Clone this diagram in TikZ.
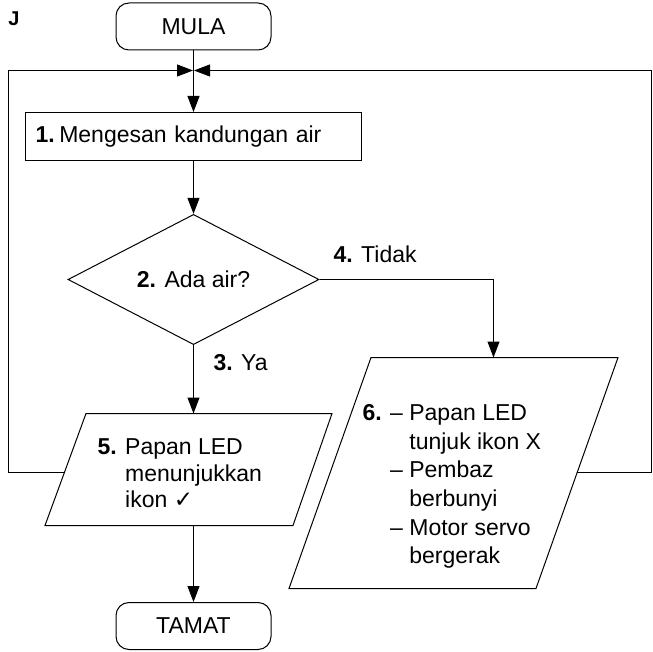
\documentclass[tikz,border=0pt]{standalone}
\usepackage{fontspec}
\setmainfont{Liberation Sans}
\newfontfamily\symfont{DejaVu Sans}
\usetikzlibrary{shapes.geometric,arrows.meta}
\begin{document}
\begin{tikzpicture}[x=1pt,y=-1pt,
  line width=1pt,
  every node/.style={font=\fontsize{23}{28}\selectfont},
  term/.style={draw, rounded corners=13pt, minimum width=155pt, minimum height=47pt, inner sep=0pt},
  proc/.style={draw, minimum width=336pt, minimum height=48pt, inner xsep=10pt, inner ysep=0pt, text width=316pt, align=left},
  dec/.style={draw, diamond, minimum width=251pt, minimum height=115pt, inner sep=0pt},
  arr/.style={-{Triangle[length=16pt,width=12pt]}},
  lbl/.style={anchor=west, inner sep=0pt}
]
\useasboundingbox (0,0) rectangle (653,652);

\node[font=\bfseries\fontsize{20}{22}\selectfont, inner sep=0pt] (J) at (14,19) {J};

\node[term] (start) at (193.5,26.5) {MULA};
\node[proc] (s1) at (193.5,136.5) {\textbf{1.}\hspace{0.2em}Mengesan kandungan air};
\node[dec] (d) at (193.5,279.5) {\textbf{2.} Ada air?};

% parallelogram 5
\coordinate (p5tl) at (86,413.5);
\coordinate (p5tr) at (332,413.5);
\coordinate (p5br) at (293,525.5);
\coordinate (p5bl) at (45,525.5);
\draw (p5tl) -- (p5tr) -- (p5br) -- (p5bl) -- cycle;
\coordinate (p5top) at (193.5,413.5);
\coordinate (p5bot) at (193.5,525.5);
\coordinate (p5w) at (64.4,472.5);
\node[lbl, font=\fontsize{23}{26.5}\selectfont] (p5) at (97,476)
  {\begin{tabular}{@{}l@{ }l@{}}\textbf{5.} & Papan LED\\ & menunjukkan\\ & ikon {\symfont ✓}\end{tabular}};

% parallelogram 6
\coordinate (p6tl) at (371,357.5);
\coordinate (p6tr) at (618,357.5);
\coordinate (p6br) at (536,588.5);
\coordinate (p6bl) at (289,588.5);
\draw (p6tl) -- (p6tr) -- (p6br) -- (p6bl) -- cycle;
\coordinate (p6top) at (493.5,357.5);
\coordinate (p6e) at (577.2,472.5);
\node[lbl, font=\fontsize{23}{28.6}\selectfont] (p6) at (362,486.5)
  {\begin{tabular}{@{}l@{ }l@{ }l@{}}\textbf{6.} & -- & Papan LED\\ & & tunjuk ikon X\\ & -- & Pembaz\\ & & berbunyi\\ & -- & Motor servo\\ & & bergerak\end{tabular}};

\node[term] (end) at (193.5,626) {TAMAT};

% labels
\node[lbl] (ya) at (213,363) {\textbf{3.} Ya};
\node[lbl] (tidak) at (333,254) {\textbf{4.} Tidak};

% junction
\coordinate (mL) at (193,70.5);
\coordinate (mR) at (194,70.5);
\coordinate (cL) at (8.5,70.5);
\coordinate (cLb) at (8.5,472.5);
\coordinate (cR) at (651.5,70.5);
\coordinate (cRb) at (651.5,472.5);

% connectors
\draw[arr] (start.south) -- (s1.north);
\draw[arr] (s1.south) -- (d.north);
\draw[arr] (d.south) -- (p5top);
\draw[arr] (d.east) -| (p6top);
\draw[arr] (p5bot) -- (end.north);
\draw[arr] (p5w) -- (cLb) -- (cL) -- (mL);
\draw[arr] (p6e) -- (cRb) -- (cR) -- (mR);
\end{tikzpicture}
\end{document}
